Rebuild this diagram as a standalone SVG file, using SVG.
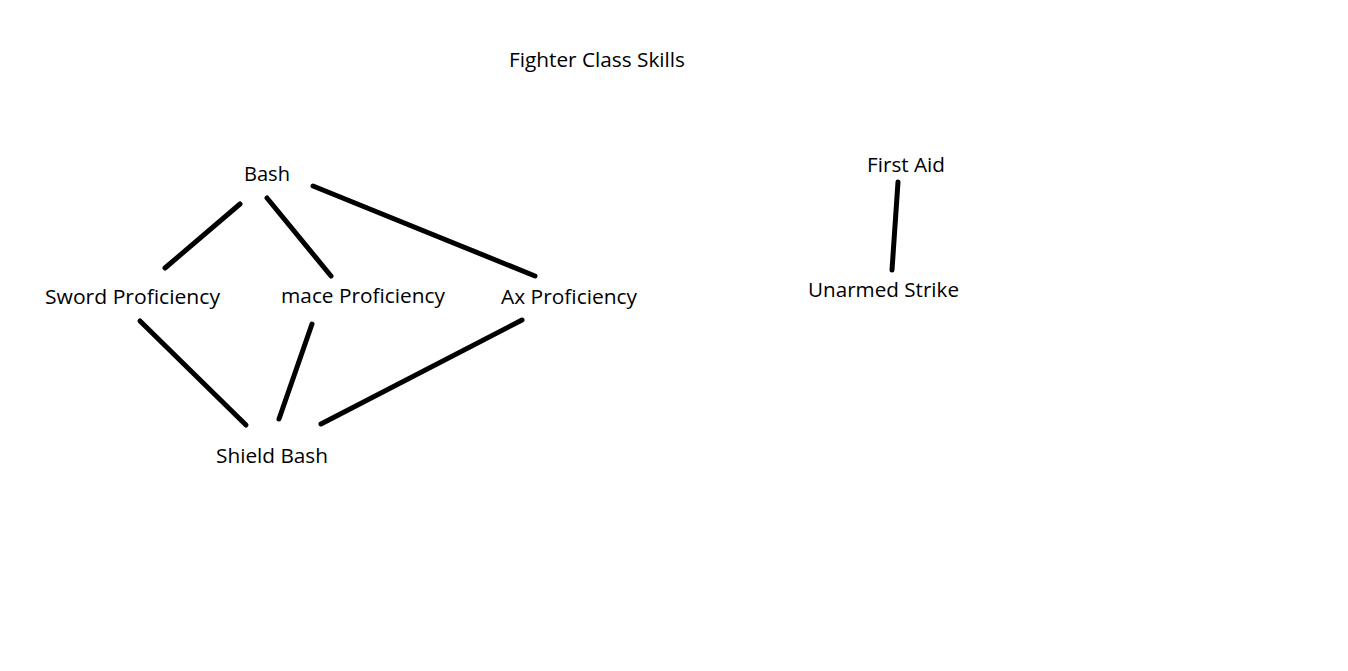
<svg xmlns="http://www.w3.org/2000/svg" width="1348" height="671" viewBox="0 0 1348 671">
<style>
text { font-family: "Open Sans", "Liberation Sans", sans-serif; font-size: 20px; fill: #000; }
.edge { stroke: #000; stroke-width: 5; stroke-linecap: round; fill: none; }
</style>
<rect width="1348" height="671" fill="#fff"/>
<g id="title"><text x="509" y="67" textLength="176" lengthAdjust="spacingAndGlyphs">Fighter Class Skills</text></g>
<g id="connectors">
<line class="edge" x1="240" y1="204" x2="165" y2="268"/>
<line class="edge" x1="267" y1="198" x2="331" y2="276"/>
<line class="edge" x1="313" y1="186" x2="535" y2="276"/>
<line class="edge" x1="140" y1="321" x2="246" y2="425"/>
<line class="edge" x1="312" y1="324" x2="279" y2="419"/>
<line class="edge" x1="522" y1="320" x2="321" y2="424"/>
<line class="edge" x1="898" y1="182" x2="892" y2="270"/>
</g>
<g id="node-bash"><text x="244" y="181" textLength="46" lengthAdjust="spacingAndGlyphs">Bash</text></g>
<g id="node-sword"><text x="45" y="304" textLength="175" lengthAdjust="spacingAndGlyphs">Sword Proficiency</text></g>
<g id="node-mace"><text x="281" y="303" textLength="164" lengthAdjust="spacingAndGlyphs">mace Proficiency</text></g>
<g id="node-ax"><text x="501" y="304" textLength="136" lengthAdjust="spacingAndGlyphs">Ax Proficiency</text></g>
<g id="node-shield"><text x="216" y="463" textLength="112" lengthAdjust="spacingAndGlyphs">Shield Bash</text></g>
<g id="node-firstaid"><text x="867" y="172" textLength="78" lengthAdjust="spacingAndGlyphs">First Aid</text></g>
<g id="node-unarmed"><text x="808" y="297" textLength="151" lengthAdjust="spacingAndGlyphs">Unarmed Strike</text></g>
</svg>
